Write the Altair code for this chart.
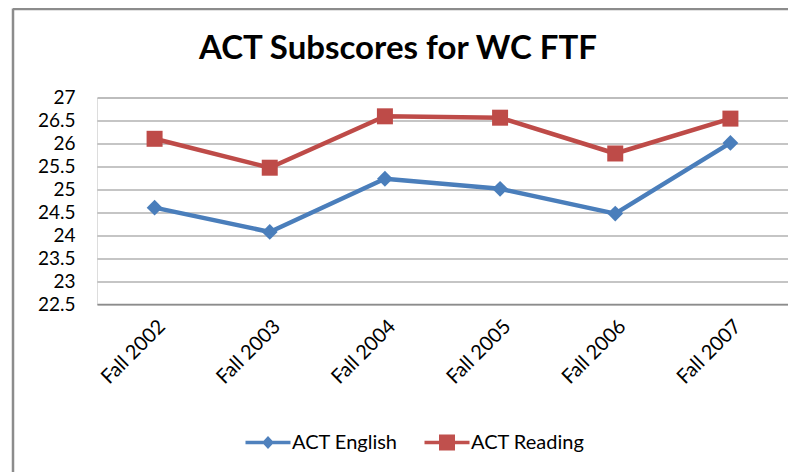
import altair as alt
import pandas as pd

periods = ["Fall 2002", "Fall 2003", "Fall 2004", "Fall 2005", "Fall 2006", "Fall 2007"]
series_names = ["ACT English", "ACT Reading"]
english = [24.6, 24.07, 25.23, 25.01, 24.47, 26.01]
reading = [26.1, 25.47, 26.59, 26.56, 25.78, 26.54]
y_ticks = [22.5, 23, 23.5, 24, 24.5, 25, 25.5, 26, 26.5, 27]

rows = []
for p, e, r in zip(periods, english, reading):
    rows.append({"period": p, "series": series_names[0], "score": e})
    rows.append({"period": p, "series": series_names[1], "score": r})
df = pd.DataFrame(rows)

line_colors = ["#4A7EBB", "#BE4B48"]
marker_colors = ["#4F81BD", "#C0504D"]
FONT = "Lato"

legend_paths = [
    "M-2.25,-0.17H2.25V0.17H-2.25Z M-0.6,0L0,-0.65L0.6,0L0,0.65Z",
    "M-2.25,-0.17H2.25V0.17H-2.25Z M-0.8,-0.8H0.8V0.8H-0.8Z",
]
legend_x = [161, 340]

x_enc = alt.X(
    "period:N",
    sort=periods,
    title=None,
    axis=alt.Axis(
        labelAngle=-45,
        labelFontSize=20,
        labelFont=FONT,
        labelColor="#000000",
        labelPadding=12,
        ticks=False,
        grid=False,
        domain=True,
        domainColor="#8c8c8c",
        domainWidth=1.5,
    ),
)
y_enc = alt.Y(
    "score:Q",
    title=None,
    scale=alt.Scale(domain=[22.5, 27], nice=False, zero=False),
    axis=alt.Axis(
        values=y_ticks,
        format="~g",
        labelFontSize=19,
        labelFont=FONT,
        labelColor="#000000",
        labelPadding=22,
        ticks=False,
        domain=False,
        grid=True,
        gridColor="#8c8c8c",
        gridWidth=1.2,
    ),
)

base = alt.Chart(df)

lines = base.mark_line(strokeWidth=4.5, strokeCap="round", strokeJoin="round").encode(
    x=x_enc,
    y=y_enc,
    color=alt.Color("series:N", scale=alt.Scale(domain=series_names, range=line_colors), legend=None),
)

points = base.mark_point(filled=True, opacity=1).encode(
    x=x_enc,
    y=y_enc,
    color=alt.Color("series:N", scale=alt.Scale(domain=series_names, range=line_colors), legend=None),
    shape=alt.Shape("series:N", scale=alt.Scale(domain=series_names, range=["diamond", "square"]), legend=None),
    size=alt.Size("series:N", scale=alt.Scale(domain=series_names, range=[250, 256]), legend=None),
)


def legend_layer(i):
    name = series_names[i]
    return (
        base.transform_filter(alt.datum.series == name)
        .mark_point(filled=True, opacity=0, color=marker_colors[i], fill=marker_colors[i])
        .encode(
            x=x_enc,
            y=y_enc,
            shape=alt.Shape(
                "series:N",
                scale=alt.Scale(domain=[name], range=[legend_paths[i]]),
                legend=alt.Legend(
                    title=None,
                    orient="none",
                    direction="horizontal",
                    legendX=legend_x[i],
                    legendY=335,
                    symbolSize=400,
                    symbolOpacity=1,
                    symbolStrokeWidth=0,
                    symbolFillColor=marker_colors[i],
                    labelOffset=14,
                    labelFontSize=20,
                    labelFont=FONT,
                    labelColor="#000000",
                ),
            ),
        )
    )


frame_df = pd.DataFrame({"k": [0]})
left_border = alt.Chart(frame_df).mark_rule(color="#8c8c8c", strokeWidth=2.5).encode(
    x=alt.value(-84), y=alt.value(-89), y2=alt.value(380)
)
top_border = alt.Chart(frame_df).mark_rule(color="#8c8c8c", strokeWidth=2.5).encode(
    x=alt.value(-84), x2=alt.value(700), y=alt.value(-88.5)
)

chart = (
    alt.layer(lines, points, legend_layer(0), legend_layer(1), left_border, top_border)
    .resolve_scale(shape="independent")
    .properties(
        width=691,
        height=206.5,
        title=alt.TitleParams(
            "ACT Subscores for WC FTF",
            font=FONT,
            fontSize=33,
            fontWeight="bold",
            color="#000000",
            anchor="middle",
            frame="group",
            dx=-44.5,
            offset=-59,
        ),
        autosize=alt.AutoSizeParams(type="none"),
        padding={"left": 89, "top": 89.5, "right": 0, "bottom": 168},
    )
    .configure_view(stroke=None)
    .configure(background="#ffffff")
)

chart.save("out.html", embed_options={"renderer": "svg", "actions": False})
